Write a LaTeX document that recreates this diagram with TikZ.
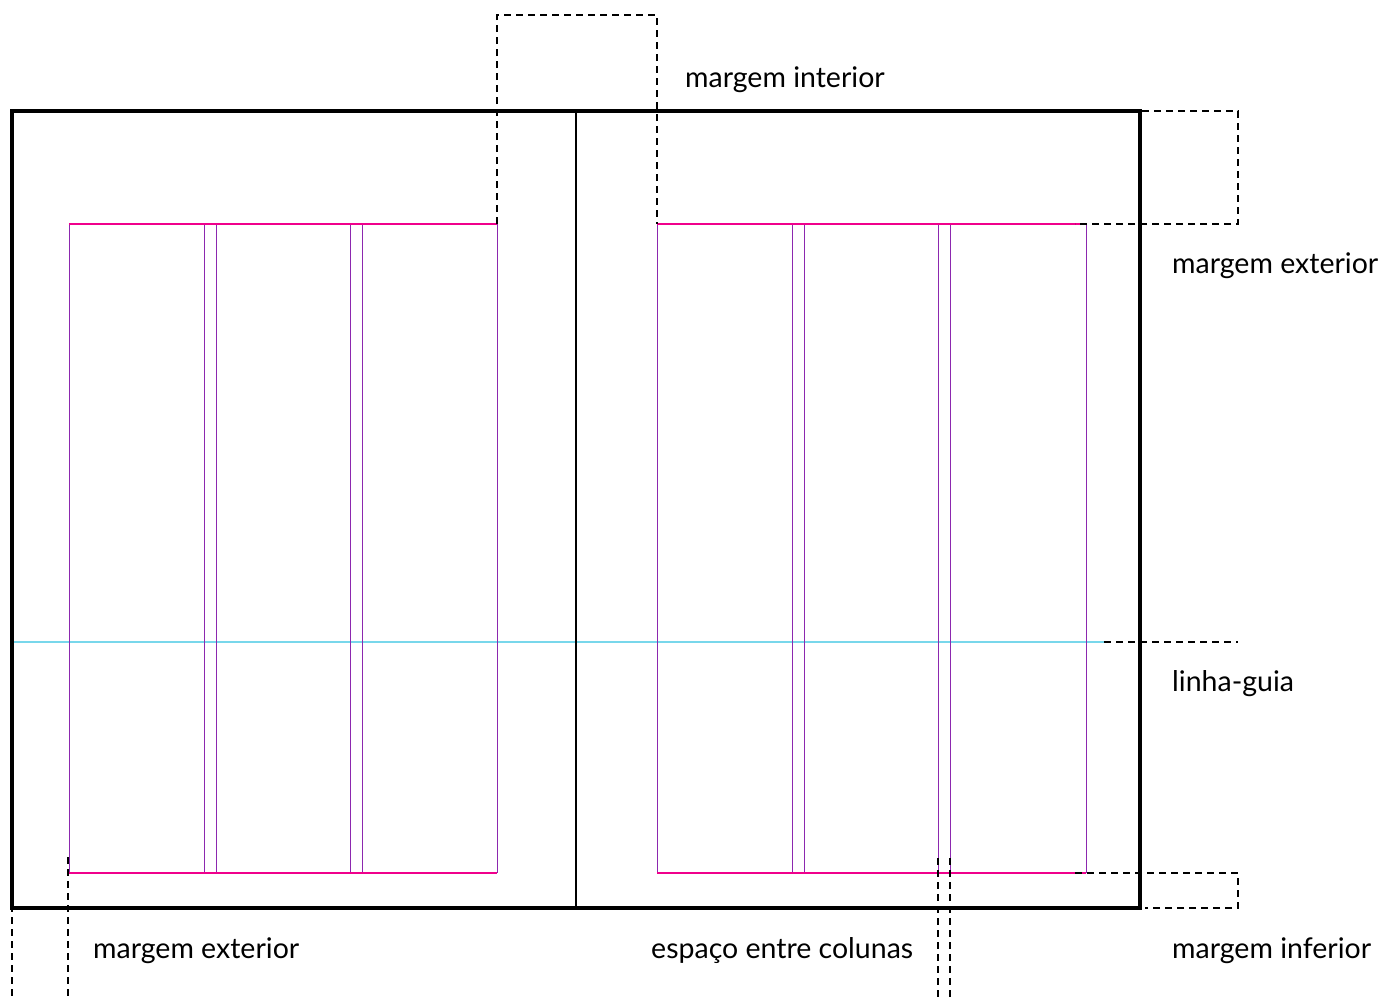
\documentclass[tikz,border=0pt]{standalone}
\usepackage{fontspec}
\setmainfont{Lato}
\definecolor{guidemag}{RGB}{240,0,140}
\definecolor{guidepur}{RGB}{140,40,175}
\definecolor{guidecyan}{RGB}{120,215,235}
\begin{document}
\begin{tikzpicture}[x=1pt,y=-1pt,
  frame/.style={line width=3.2pt,black},
  spine/.style={line width=1.4pt,black},
  colline/.style={line width=1pt,guidepur},
  marline/.style={line width=1.4pt,guidemag},
  guideline/.style={line width=1.5pt,guidecyan},
  dim/.style={line width=1.1pt,black,dash pattern=on 7pt off 5pt},
  lbl/.style={anchor=base west,inner sep=0pt,font=\fontsize{28.5}{32}\selectfont}]
\useasboundingbox (0,0) rectangle (1386,1002);
% guide line
\draw[guideline] (12,642) -- (1104,642);
% columns
\foreach \x in {69,204,216,350,362,497} \draw[colline] (\x,224) -- (\x,873);
\foreach \x in {657,792,804,938,950,1086} \draw[colline] (\x,224) -- (\x,873);
\draw[marline] (69,224) -- (497,224);
\draw[marline] (69,873) -- (497,873);
\draw[marline] (657,224) -- (1086,224);
\draw[marline] (657,873) -- (1086,873);
% frame and spine
\draw[spine] (576,111) -- (576,908);
\draw[frame] (12,111) rectangle (1140,908);
% dimension dashed lines
\draw[dim] (497,224) -- (497,15) -- (657,15) -- (657,224);
\draw[dim] (1142,111) -- (1238,111) -- (1238,224) -- (1075,224);
\draw[dim] (1104,642) -- (1238,642);
\draw[dim] (1075,873) -- (1238,873) -- (1238,908) -- (1145,908);
\draw[dim] (12,857) -- (12,997);
\draw[dim] (68,857) -- (68,997);
\draw[dim] (938,858) -- (938,997);
\draw[dim] (950,858) -- (950,997);
% labels
\node[lbl] (mi) at (685,87) {margem interior};
\node[lbl] (me1) at (1172,273) {margem exterior};
\node[lbl] (lg) at (1172,691) {linha-guia};
\node[lbl] (me2) at (93,958) {margem exterior};
\node[lbl] (ec) at (651,958) {espaço entre colunas};
\node[lbl] (minf) at (1172,958) {margem inferior};
\end{tikzpicture}
\end{document}
